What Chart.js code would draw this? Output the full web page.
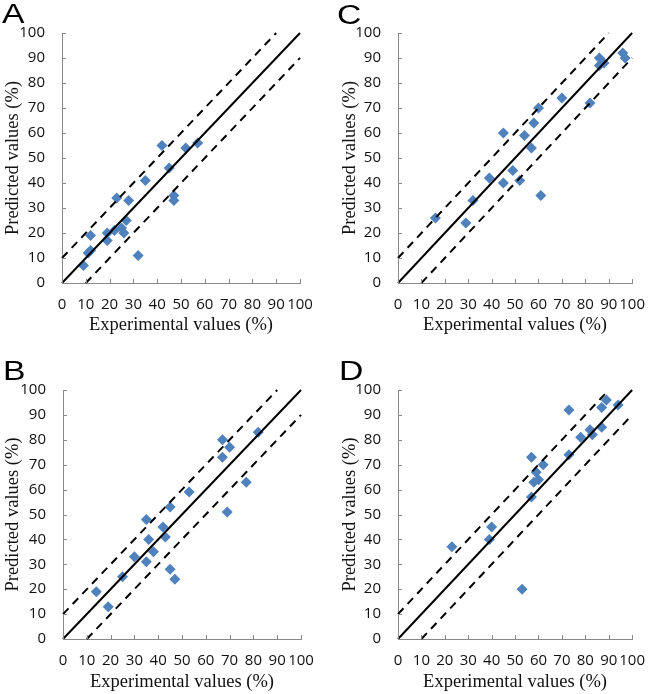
<!DOCTYPE html>
<html><head><meta charset="utf-8">
<script src="https://cdn.jsdelivr.net/npm/chart.js@4.4.0/dist/chart.umd.min.js"></script>
<style>
html,body{margin:0;padding:0;background:#fff;}
#wrap{position:relative;width:650px;height:694px;overflow:hidden;}
.panel{position:absolute;width:325px;height:347px;}
.panel canvas{display:block;}
.letter{position:absolute;font-family:"Liberation Sans",Arial,sans-serif;font-size:27px;line-height:1;transform-origin:left top;transform:scaleX(1.25);color:#000;}
</style></head>
<body>
<div id="wrap">
  <div class="panel" style="left:0;top:0"><canvas id="cA" width="325" height="347"></canvas></div>
  <div class="panel" style="left:325px;top:0"><canvas id="cC" width="325" height="347"></canvas></div>
  <div class="panel" style="left:0;top:347px"><canvas id="cB" width="325" height="347"></canvas></div>
  <div class="panel" style="left:325px;top:347px"><canvas id="cD" width="325" height="347"></canvas></div>
  <div class="letter" style="left:2px;top:1px">A</div>
  <div class="letter" style="left:337px;top:2px">C</div>
  <div class="letter" style="left:3px;top:358px">B</div>
  <div class="letter" style="left:339px;top:358px">D</div>
</div>
<script>
// ---- data ----
const axisTicks = [0,10,20,30,40,50,60,70,80,90,100];
const xTitle = 'Experimental values (%)';
const yTitle = 'Predicted values (%)';

const A_exp  = [9,11,12,12,19,19,22,25,26,27,23,28,32,35,42,45,47,47,52,57];
const A_pred = [7,12,13,19,17,20,21,22,20,25,34,33,11,41,55,46,35,33,54,56];

const B_exp  = [14,19,25,30,35,35,36,38,42,43,45,45,47,53,67,67,70,69,77,82];
const B_pred = [19,13,25,33,48,31,40,35,45,41,53,28,24,59,80,73,77,51,63,83];

const C_exp  = [16,29,32,39,45,45,49,52,54,57,58,60,61,70,82,86,86,88,96,97];
const C_pred = [26,24,33,42,60,40,45,41,59,54,64,70,35,74,72,90,87,88,92,90];

const D_exp  = [23,39,40,53,57,57,58,59,60,62,73,73,78,82,83,87,87,89,94];
const D_pred = [37,40,45,20,57,73,63,67,64,70,92,74,81,84,82,93,85,96,94];

// reference lines (y = x, y = x + 10, y = x - 10)
const idealX = [0,100],  idealY = [0,100];
const upperX = [0,90],   upperY = [10,100];
const lowerX = [10,100], lowerY = [0,90];

// ---- helpers ----
const zip = (xs, ys) => xs.map((x,i)=>({x:x, y:ys[i]}));
const AXIS_COLOR = '#8a8a8a';

const innerTicks = {
  id:'innerTicks',
  afterDraw(chart){
    const {ctx, chartArea:a, scales:{x, y}} = chart;
    ctx.save();
    ctx.strokeStyle = AXIS_COLOR;
    ctx.lineWidth = 1;
    ctx.beginPath();
    axisTicks.forEach(v=>{
      const px = Math.round(x.getPixelForValue(v)) + 0.5;
      ctx.moveTo(px, a.bottom); ctx.lineTo(px, a.bottom - 4);
      const py = Math.round(y.getPixelForValue(v)) + 0.5;
      ctx.moveTo(a.left, py); ctx.lineTo(a.left + 4, py);
    });
    ctx.stroke();
    ctx.restore();
  }
};

function makePanel(id, ex, pr, pad, yW, xH){
  new Chart(document.getElementById(id), {
    type:'scatter',
    data:{datasets:[
      {data:zip(idealX, idealY), showLine:true, borderColor:'#000', borderWidth:2, pointRadius:0, fill:false, clip:false},
      {data:zip(upperX, upperY), showLine:true, borderColor:'#000', borderWidth:2, borderDash:[8,6], pointRadius:0, fill:false, clip:false},
      {data:zip(lowerX, lowerY), showLine:true, borderColor:'#000', borderWidth:2, borderDash:[8,6], pointRadius:0, fill:false, clip:false},
      {data:zip(ex, pr), pointStyle:'rectRot', pointRadius:5.5, pointBackgroundColor:'#4F81BD', pointBorderWidth:0, borderColor:'#4F81BD', backgroundColor:'#4F81BD', clip:false}
    ]},
    options:{
      responsive:false, animation:false, devicePixelRatio:1,
      layout:{padding:pad},
      plugins:{legend:{display:false}, tooltip:{enabled:false}},
      scales:{
        x:{type:'linear', min:0, max:100,
          afterBuildTicks(s){ s.ticks = axisTicks.map(v=>({value:v})); },
          afterFit(s){ s.height = xH; },
          grid:{display:false},
          border:{display:true, color:AXIS_COLOR, width:1},
          ticks:{color:'#111', padding:5, maxRotation:0, autoSkip:false, font:{family:'"Open Sans"', size:15}},
          title:{display:true, text:xTitle, color:'#111', padding:0, font:{family:'"Liberation Serif"', size:18.5}}
        },
        y:{type:'linear', min:0, max:100,
          afterBuildTicks(s){ s.ticks = axisTicks.map(v=>({value:v})); },
          afterFit(s){ s.width = yW; },
          grid:{display:false},
          border:{display:true, color:AXIS_COLOR, width:1},
          ticks:{color:'#111', padding:9, autoSkip:false, font:{family:'"Open Sans"', size:15}},
          title:{display:true, text:yTitle, color:'#111', padding:0, font:{family:'"Liberation Serif"', size:18.5}}
        }
      }
    },
    plugins:[innerTicks]
  });
}

makePanel('cA', A_exp, A_pred, {left:2,  right:25, top:33, bottom:11}, 60, 53);
makePanel('cC', C_exp, C_pred, {left:14, right:14, top:33, bottom:11}, 59, 53);
makePanel('cB', B_exp, B_pred, {left:2,  right:24, top:43, bottom:1},  61, 54);
makePanel('cD', D_exp, D_pred, {left:14, right:14, top:43, bottom:1},  59, 54);
</script>
</body></html>
